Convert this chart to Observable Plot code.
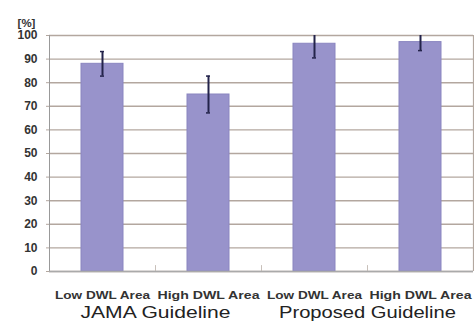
<!DOCTYPE html>
<html>
<head>
<meta charset="utf-8">
<script src="https://cdn.jsdelivr.net/npm/d3@7"></script>
<script src="https://cdn.jsdelivr.net/npm/@observablehq/plot@0.6"></script>
<style>
  html, body { margin: 0; padding: 0; background: #fff; }
  svg { font-family: "Liberation Sans", Arial, sans-serif; }
</style>
</head>
<body>
<div id="chart"></div>
<script>
const groups = ["JAMA Guideline", "JAMA Guideline", "Proposed Guideline", "Proposed Guideline"];
const areas = ["Low DWL Area", "High DWL Area", "Low DWL Area", "High DWL Area"];
const rates = [88, 75, 96.5, 97.2];
const errors = [5.2, 7.8, 6, 3.6];
const yTicks = [0, 10, 20, 30, 40, 50, 60, 70, 80, 90, 100];
const groupLabels = ["JAMA Guideline", "Proposed Guideline"];

const data = groups.map((g, i) => ({
  key: g + "|" + areas[i],
  area: areas[i],
  v: rates[i],
  lo: rates[i] - errors[i],
  hi: rates[i] + errors[i]
}));
const keys = data.map(d => d.key);
const groupData = groupLabels.map(g => ({ key: keys[groups.indexOf(g)], label: g }));
const gridColor = "#b3a79f";

const plot = Plot.plot({
  width: 474,
  height: 322,
  marginLeft: 49,
  marginRight: 1,
  marginTop: 35,
  marginBottom: 51,
  style: { background: "#fff", color: "#333" },
  x: { domain: keys, padding: 0.6, paddingOuter: 0.3, axis: null },
  y: { domain: [0, 100], axis: null },
  marks: [
    Plot.gridY(yTicks, { stroke: gridColor, strokeOpacity: 1, strokeWidth: 1.4 }),
    Plot.ruleX(keys.slice(1), { x: d => d, y1: 0, y2: 2.5, dx: -53, stroke: "#c8c0ba", strokeWidth: 1 }),
    Plot.barY(data, { x: "key", y: "v", fill: "#9893cb", stroke: "#8a85c0", strokeWidth: 1 }),
    Plot.ruleX(data, { x: "key", y1: "lo", y2: "hi", stroke: "#23234a", strokeWidth: 2, clip: true }),
    Plot.tickY(data, { x: "key", y: "lo", insetLeft: 19, insetRight: 19, stroke: "#23234a", strokeWidth: 1.5, clip: true }),
    Plot.tickY(data, { x: "key", y: "hi", insetLeft: 19, insetRight: 19, stroke: "#23234a", strokeWidth: 1.5, clip: true }),
    Plot.ruleX([0], { x: () => keys[0], y1: 0, y2: 100, dx: -53, stroke: "#999", strokeWidth: 1 }),
    Plot.ruleX([0], { x: () => keys[3], y1: 0, y2: 100, dx: 53, stroke: gridColor, strokeWidth: 1.2 }),
    Plot.ruleY([0], { stroke: "#aaa", strokeWidth: 1.4 }),
    Plot.axisY({ ticks: yTicks, tickSize: 3, tickPadding: 9, fontSize: 12, fontWeight: "bold", stroke: gridColor, label: null, tickFormat: d => d }),
    Plot.text(["[%]"], { frameAnchor: "top-left", dx: -23, dy: -17, text: d => d, fontSize: 11.5, fontWeight: "bold", fill: "#333", textAnchor: "middle" }),
    Plot.text(data, { x: "key", text: "area", frameAnchor: "bottom", dy: 24, fontSize: 11, fontWeight: "bold", fill: "#333", lineAnchor: "middle" }),
    Plot.text(groupData, { x: "key", text: "label", frameAnchor: "bottom", dx: 53, dy: 41.5, fontSize: 16, fill: "#222", lineAnchor: "middle" })
  ]
});

const stretch = { "Low DWL Area": 95, "High DWL Area": 102, "JAMA Guideline": 150, "Proposed Guideline": 177 };
d3.select(plot).selectAll("text").each(function () {
  const t = this.textContent;
  if (stretch[t]) {
    d3.select(this).attr("textLength", stretch[t]).attr("lengthAdjust", "spacingAndGlyphs");
  }
});

document.getElementById("chart").appendChild(plot);
</script>
</body>
</html>
